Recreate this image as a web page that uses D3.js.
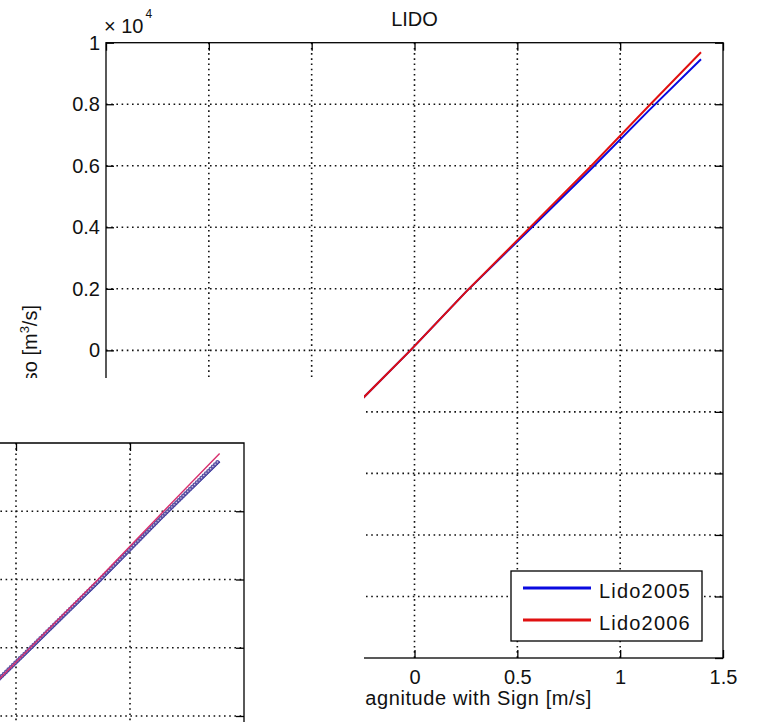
<!DOCTYPE html>
<html>
<head>
<meta charset="utf-8">
<script src="https://cdn.jsdelivr.net/npm/d3@7"></script>
<style>
  body { margin: 0; background: #fff; }
  text { font-family: "Liberation Sans", Arial, sans-serif; fill: #111; }
</style>
</head>
<body>
<script>
// data (flow x10^4 m3/s against velocity m/s)
const velocity = [-1.4, -1.0, -0.5, -0.25, -0.02, 0.25, 0.54, 0.86, 1.14, 1.393];
const lido2005 = [-0.94, -0.67, -0.33, -0.155, 0, 0.19, 0.38, 0.59, 0.78, 0.946];
const lido2006 = [-0.95, -0.68, -0.33, -0.155, 0, 0.19, 0.385, 0.60, 0.795, 0.969];
const seriesNames = ["Lido2005", "Lido2006"];
const xTicks = [-1.5, -1, -0.5, 0, 0.5, 1, 1.5];
const yTicks = [-1, -0.8, -0.6, -0.4, -0.2, 0, 0.2, 0.4, 0.6, 0.8, 1];
const insetXTicks = [0, 0.5, 1, 1.5];
const insetYTicks = [0.2, 0.4, 0.6, 0.8, 1];

const W = 757, H = 722;
const fmt = d3.format("~g");

const svg = d3.select("body").append("svg")
    .attr("width", W).attr("height", H)
    .style("font-size", "20px");

svg.append("rect").attr("width", W).attr("height", H).attr("fill", "#fff");

// main axes
const pL = 106, pR = 723, pT = 42.7, pB = 658;
const x = d3.scaleLinear().domain([-1.5, 1.5]).range([pL, pR]);
const y = d3.scaleLinear().domain([-1, 1]).range([pB, pT]);

const pts = vals => velocity.map((v, i) => [v, vals[i]]);
const dotted = g => g.attr("stroke", "#111").attr("stroke-width", 1.6)
    .attr("stroke-dasharray", "1.6,3.6");

svg.append("clipPath").attr("id", "plotclip")
  .append("rect").attr("x", pL).attr("y", pT)
    .attr("width", pR - pL).attr("height", pB - pT);

const grid = svg.append("g").call(dotted);
grid.selectAll("line.v").data(xTicks.slice(1, -1)).join("line").attr("class", "v")
    .attr("x1", d => x(d)).attr("x2", d => x(d)).attr("y1", pT).attr("y2", pB);
grid.selectAll("line.h").data(yTicks.slice(1, -1)).join("line").attr("class", "h")
    .attr("y1", d => y(d)).attr("y2", d => y(d)).attr("x1", pL).attr("x2", pR);

const line = d3.line().x(d => x(d[0])).y(d => y(d[1]));
const plot = svg.append("g").attr("clip-path", "url(#plotclip)");
plot.append("path").datum(pts(lido2005)).attr("d", line)
    .attr("fill", "none").attr("stroke", "#0a0ae0").attr("stroke-width", 2);
plot.append("path").datum(pts(lido2006)).attr("d", line)
    .attr("fill", "none").attr("stroke", "#e01010").attr("stroke-width", 2);

// axes, ticks pointing inward like matlab
const styleAxis = g => {
  g.select(".domain").remove();
  g.selectAll(".tick line").attr("stroke", "#000").attr("stroke-width", 1.3);
  g.selectAll("text").attr("font-size", 20).attr("fill", "#111")
    .attr("font-family", "Liberation Sans, Arial, sans-serif");
};
svg.append("g").attr("transform", `translate(0,${pB})`)
  .call(d3.axisBottom(x).tickValues(xTicks).tickSizeInner(-8).tickSizeOuter(0)
    .tickPadding(12).tickFormat(fmt)).call(styleAxis);
svg.append("g").attr("transform", `translate(0,${pT})`)
  .call(d3.axisTop(x).tickValues(xTicks).tickSizeInner(-8).tickSizeOuter(0)
    .tickFormat("")).call(styleAxis);
svg.append("g").attr("transform", `translate(${pL},0)`)
  .call(d3.axisLeft(y).tickValues(yTicks).tickSizeInner(-8).tickSizeOuter(0)
    .tickPadding(6).tickFormat(fmt)).call(styleAxis);
svg.append("g").attr("transform", `translate(${pR},0)`)
  .call(d3.axisRight(y).tickValues(yTicks).tickSizeInner(-8).tickSizeOuter(0)
    .tickFormat("")).call(styleAxis);

svg.append("rect").attr("x", pL).attr("y", pT)
    .attr("width", pR - pL).attr("height", pB - pT)
    .attr("fill", "none").attr("stroke", "#000").attr("stroke-width", 1.3);

// exponent label
const ex = svg.append("text").attr("x", 104).attr("y", 33).attr("font-size", 20);
ex.append("tspan").text("\u00d7 10");
ex.append("tspan").attr("font-size", 12).attr("dy", -15).attr("dx", 2).text("4");

svg.append("text").attr("x", (pL + pR) / 2).attr("y", 26)
    .attr("text-anchor", "middle").attr("font-size", 20).text("LIDO");

svg.append("text").attr("x", 592).attr("y", 705)
    .attr("text-anchor", "end").attr("font-size", 20).attr("letter-spacing", 0.6)
    .text("Velocity Magnitude with Sign [m/s]");

const yl = svg.append("text").attr("transform", "translate(37,305) rotate(-90)")
    .attr("text-anchor", "end").attr("font-size", 20);
yl.append("tspan").text("Flusso [m");
yl.append("tspan").attr("font-size", 13).attr("dy", -8).text("3");
yl.append("tspan").attr("dy", 8).text("/s]");

// legend
const legend = svg.append("g");
legend.append("rect").attr("x", 511).attr("y", 571).attr("width", 191).attr("height", 70)
    .attr("fill", "#fff").attr("stroke", "#000").attr("stroke-width", 1.3);
const legColors = ["#0a0ae0", "#e01010"];
seriesNames.forEach((n, i) => {
  const ly = 588 + i * 32;
  legend.append("line").attr("x1", 523).attr("x2", 591).attr("y1", ly).attr("y2", ly)
      .attr("stroke", legColors[i]).attr("stroke-width", 3);
  legend.append("text").attr("x", 599).attr("y", ly + 10).attr("font-size", 20)
      .attr("letter-spacing", 1.2).text(n);
});

// white cut-out over lower-left corner
svg.append("rect").attr("x", 0).attr("y", 378).attr("width", 364).attr("height", H - 378)
    .attr("fill", "#fff");

// inset: enlarged piece of the same plot
const ix = d3.scaleLinear().domain([0.5, 1.0]).range([16, 130]);
const iy = d3.scaleLinear().domain([0.2, 1.0]).range([716, 443]);
const iRight = ix(1.5), iTop = iy(1);

svg.append("clipPath").attr("id", "insetclip")
  .append("rect").attr("x", -10).attr("y", iTop).attr("width", iRight + 10).attr("height", H - iTop + 10);

const inset = svg.append("g").attr("clip-path", "url(#insetclip)");
const igrid = inset.append("g").call(dotted);
igrid.selectAll("line.v").data(insetXTicks.slice(0, -1)).join("line").attr("class", "v")
    .attr("x1", d => ix(d)).attr("x2", d => ix(d)).attr("y1", iTop).attr("y2", H + 10);
igrid.selectAll("line.h").data(insetYTicks.slice(0, -1)).join("line").attr("class", "h")
    .attr("y1", d => iy(d)).attr("y2", d => iy(d)).attr("x1", -10).attr("x2", iRight);

const iline = d3.line().x(d => ix(d[0])).y(d => iy(d[1]));
inset.append("path").datum(pts(lido2005)).attr("d", iline)
    .attr("fill", "none").attr("stroke", "#1c1c96").attr("stroke-width", 2);
inset.append("path").datum(pts(lido2005)).attr("d", iline)
    .attr("transform", "translate(0,-1.5)")
    .attr("fill", "none").attr("stroke", "#5e54a4").attr("stroke-width", 4.2)
    .attr("stroke-linecap", "round").attr("stroke-dasharray", "0,3.2");
inset.append("path").datum(pts(lido2005)).attr("d", iline)
    .attr("transform", "translate(0,-1.5)")
    .attr("fill", "none").attr("stroke", "#ddd6f0").attr("stroke-width", 1.4)
    .attr("stroke-linecap", "round").attr("stroke-dasharray", "0,3.2");
inset.append("path").datum(pts(lido2006)).attr("d", iline)
    .attr("fill", "none").attr("stroke", "#d8306e").attr("stroke-width", 1.4);

svg.append("g").attr("transform", `translate(0,${iTop})`)
  .call(d3.axisTop(ix).tickValues(insetXTicks.slice(1, -1)).tickSizeInner(-8).tickSizeOuter(0)
    .tickFormat("")).call(styleAxis);
svg.append("g").attr("transform", `translate(${iRight},0)`)
  .call(d3.axisRight(iy).tickValues(insetYTicks.slice(0, -1)).tickSizeInner(-8).tickSizeOuter(0)
    .tickFormat("")).call(styleAxis);
svg.append("path").attr("d", `M0,${iTop}H${iRight}V${H}`)
    .attr("fill", "none").attr("stroke", "#000").attr("stroke-width", 1.3);
</script>
</body>
</html>
